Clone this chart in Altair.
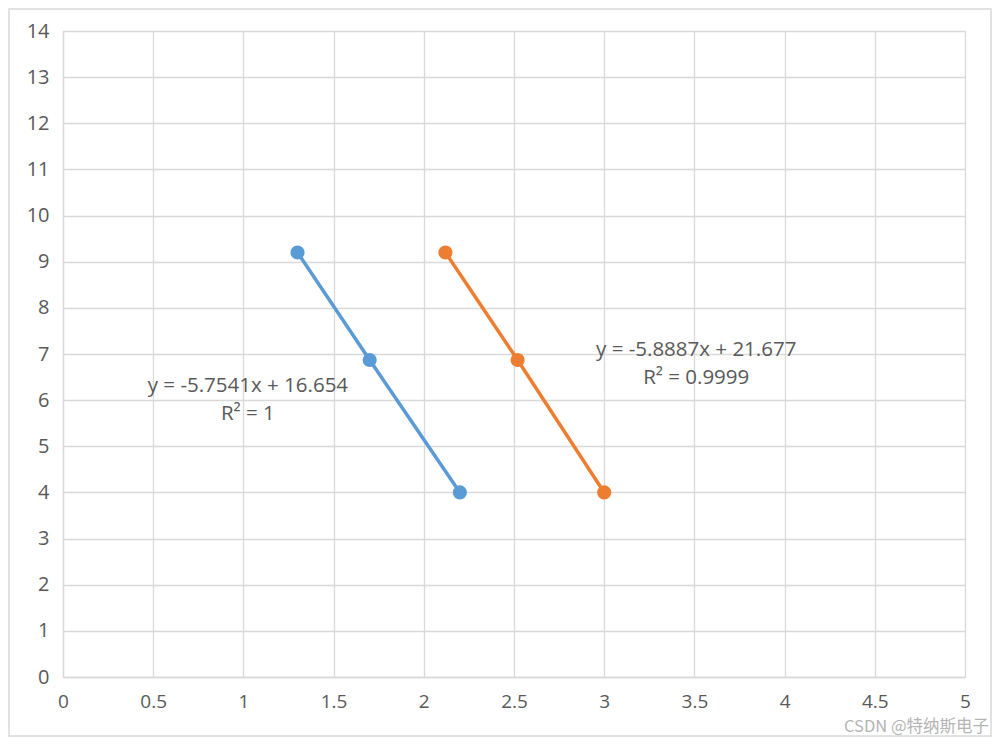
import altair as alt
import pandas as pd

# ---- data ----
series_names = ["Series A", "Series B"]
series_colors = ["#5B9BD5", "#ED7D31"]
blue_x = [1.3, 1.7, 2.2]
blue_y = [9.2, 6.87, 4.0]
orange_x = [2.12, 2.52, 3.0]
orange_y = [9.2, 6.87, 4.0]

eq_lines = ["y = -5.7541x + 16.654", "R² = 1", "y = -5.8887x + 21.677", "R² = 0.9999"]
eq_x = [1.025, 1.025, 3.51, 3.51]
eq_y = [6.31, 5.70, 7.09, 6.48]

x_ticks = [0, 0.5, 1, 1.5, 2, 2.5, 3, 3.5, 4, 4.5, 5]
y_ticks = list(range(0, 15))
watermark = "CSDN @特纳斯电子"

FONT = "Open Sans"
GRID = "#D9D9D9"
TXT = "#595959"

pts = pd.DataFrame({
    "x": blue_x + orange_x,
    "y": blue_y + orange_y,
    "s": [series_names[0]] * len(blue_x) + [series_names[1]] * len(orange_x),
})
eqs = pd.DataFrame({"x": eq_x, "y": eq_y, "t": eq_lines})

xs = alt.Scale(domain=[0, 5], nice=False, zero=False)
ys = alt.Scale(domain=[0, 14], nice=False, zero=False)
cs = alt.Scale(domain=series_names, range=series_colors)

xax = alt.Axis(values=x_ticks, format="~g", title=None, grid=True, gridColor=GRID, gridWidth=1.3,
               domainColor=GRID, domainWidth=1.3, ticks=False, labelFont=FONT, labelFontSize=19,
               labelColor=TXT, labelPadding=15, labelFlush=False, labelOverlap=False)
yax = alt.Axis(values=y_ticks, format="~g", title=None, grid=True, gridColor=GRID, gridWidth=1.3,
               domainColor=GRID, domainWidth=1.3, ticks=False, labelFont=FONT, labelFontSize=20,
               labelColor=TXT, labelPadding=14, labelFlush=False, labelOverlap=False)

base = alt.Chart(pts)
lines = base.mark_line(strokeWidth=3.5).encode(
    x=alt.X("x:Q", scale=xs, axis=xax),
    y=alt.Y("y:Q", scale=ys, axis=yax),
    color=alt.Color("s:N", scale=cs, legend=None),
    detail="s:N",
)
dots = base.mark_circle(size=200, opacity=1).encode(
    x=alt.X("x:Q", scale=xs),
    y=alt.Y("y:Q", scale=ys),
    color=alt.Color("s:N", scale=cs, legend=None),
)
labels = alt.Chart(eqs).mark_text(font=FONT, fontSize=20.5, color=TXT, align="center", baseline="middle").encode(
    x=alt.X("x:Q", scale=xs),
    y=alt.Y("y:Q", scale=ys),
    text="t:N",
)
wm = alt.Chart(pd.DataFrame({"t": [watermark]})).mark_text(
    font="Noto Sans CJK SC", fontSize=16.5, color="#B4B4B4", align="right", baseline="alphabetic"
).encode(x=alt.value(926), y=alt.value(701), text="t:N")
border = alt.Chart(pd.DataFrame({"a": [0]})).mark_rect(fill=None, stroke=GRID, strokeWidth=1.5).encode(
    x=alt.value(-54), x2=alt.value(928), y=alt.value(-22), y2=alt.value(705)
)

chart = alt.layer(border, lines, dots, labels, wm).properties(
    width=902, height=646,
    autosize=alt.AutoSizeParams(type="none"),
    padding={"left": 55, "top": 23, "right": 27, "bottom": 60},
).configure_view(stroke=None).configure(background="white")

chart.save("out.html", embed_options={"renderer": "svg", "actions": False})
